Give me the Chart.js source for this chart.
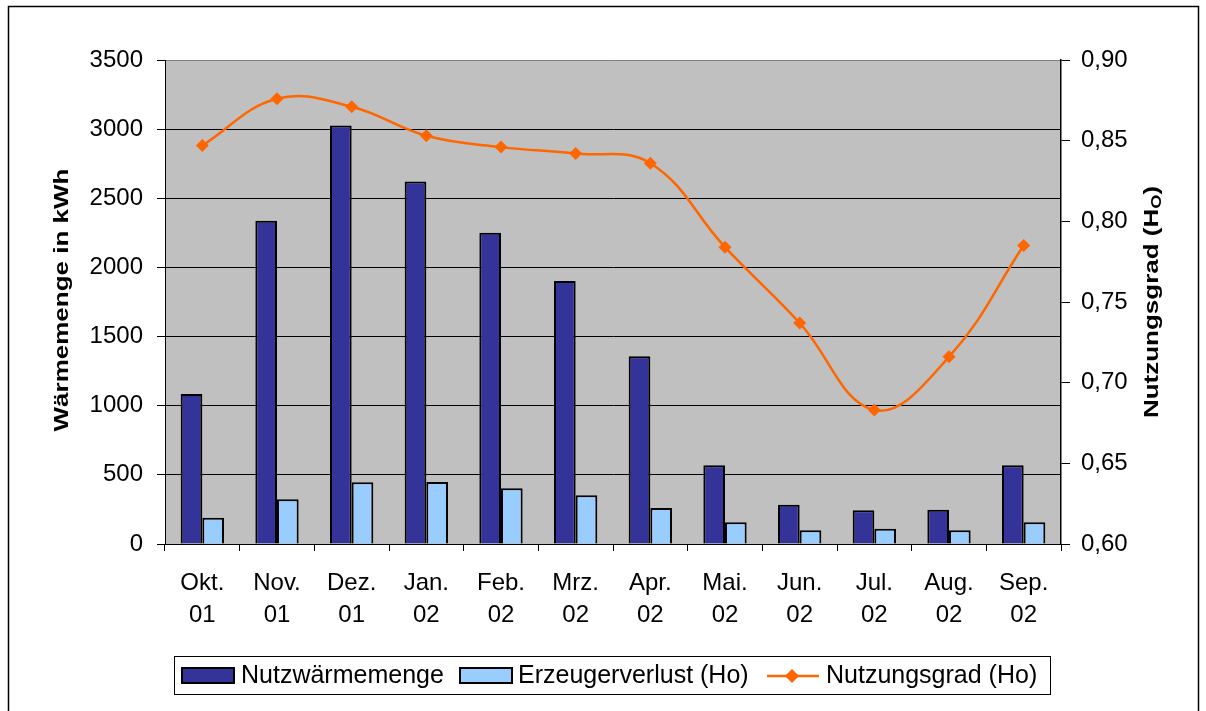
<!DOCTYPE html>
<html>
<head>
<meta charset="utf-8">
<script src="https://cdn.jsdelivr.net/npm/chart.js@4/dist/chart.umd.min.js"></script>
<style>
  html, body { margin: 0; padding: 0; background: #ffffff; }
  #wrap { position: relative; width: 1206px; height: 711px; }
</style>
</head>
<body>
<div id="wrap"><canvas id="c" width="1206" height="711"></canvas></div>
<script>
// ---- data ----
const months = [['Okt.','01'],['Nov.','01'],['Dez.','01'],['Jan.','02'],['Feb.','02'],['Mrz.','02'],
                ['Apr.','02'],['Mai.','02'],['Jun.','02'],['Jul.','02'],['Aug.','02'],['Sep.','02']];
const nutzwaermemenge = [1085, 2338, 3027, 2622, 2251, 1902, 1357, 569, 284, 244, 248, 569];
const erzeugerverlust = [190, 323, 446, 448, 403, 352, 260, 157, 99, 111, 99, 157];
const nutzungsgrad = [0.847, 0.876, 0.871, 0.853, 0.846, 0.842, 0.836, 0.784, 0.737, 0.683, 0.716, 0.785];
const leftTicks = [0, 500, 1000, 1500, 2000, 2500, 3000, 3500];
const rightTicks = [0.60, 0.65, 0.70, 0.75, 0.80, 0.85, 0.90];
const seriesNames = ['Nutzwärmemenge', 'Erzeugerverlust (Ho)', 'Nutzungsgrad (Ho)'];
const leftTitle = 'Wärmemenge in kWh';
const rightTitle = ['Nutzungsgrad (H', 'O', ')'];

const C_DARK = '#333399', C_LIGHT = '#99CCFF', C_ORANGE = '#FF6600', C_PLOT = '#C0C0C0';
const FONT = "'Liberation Sans', Arial, sans-serif";
const TITLE_STRETCH = 1.3;

const decorPlugin = {
  id: 'decor',
  beforeDraw(chart) {
    const {ctx, chartArea: a} = chart;
    ctx.save();
    ctx.fillStyle = '#fff';
    ctx.fillRect(0, 0, chart.width, chart.height);
    ctx.strokeStyle = '#000';
    ctx.lineWidth = 1.5;
    ctx.strokeRect(8.5, 6.5, 1190, 720);
    ctx.fillStyle = C_PLOT;
    ctx.fillRect(a.left, a.top, a.right - a.left, a.bottom - a.top);
    ctx.restore();
  },
  afterDraw(chart) {
    const {ctx, chartArea: a} = chart;
    const midY = (a.top + a.bottom) / 2;
    ctx.save();
    // axis titles
    ctx.fillStyle = '#000';
    ctx.font = 'bold 20px ' + FONT;
    ctx.textAlign = 'center';
    ctx.textBaseline = 'middle';
    ctx.save();
    ctx.translate(62, midY - 2);
    ctx.rotate(-Math.PI / 2);
    ctx.scale(TITLE_STRETCH, 1);
    ctx.fillText(leftTitle, 0, 0);
    ctx.restore();

    ctx.save();
    ctx.translate(1152.5, midY);
    ctx.rotate(-Math.PI / 2);
    ctx.scale(TITLE_STRETCH, 1);
    ctx.textAlign = 'left';
    ctx.textBaseline = 'middle';
    const fMain = 'bold 20px ' + FONT, fSub = 'bold 14px ' + FONT;
    ctx.font = fMain; const w1 = ctx.measureText(rightTitle[0]).width;
    ctx.font = fSub;  const w2 = ctx.measureText(rightTitle[1]).width;
    ctx.font = fMain; const w3 = ctx.measureText(rightTitle[2]).width;
    let x = -(w1 + w2 + w3) / 2;
    ctx.font = fMain; ctx.fillText(rightTitle[0], x, 0); x += w1;
    ctx.font = fSub;  ctx.fillText(rightTitle[1], x, 5); x += w2;
    ctx.font = fMain; ctx.fillText(rightTitle[2], x, 0);
    ctx.restore();

    // legend
    ctx.strokeStyle = '#000';
    ctx.lineWidth = 1;
    ctx.strokeRect(174.5, 656.5, 876, 38);
    const ly = 676;
    ctx.font = '25px ' + FONT;
    ctx.textAlign = 'left';
    ctx.textBaseline = 'middle';
    ctx.lineWidth = 2;
    ctx.fillStyle = C_DARK; ctx.fillRect(182, 668, 52, 15); ctx.strokeRect(182, 668, 52, 15);
    ctx.fillStyle = '#000'; ctx.fillText(seriesNames[0], 241, ly);
    ctx.fillStyle = C_LIGHT; ctx.fillRect(460, 668, 52, 15); ctx.strokeRect(460, 668, 52, 15);
    ctx.fillStyle = '#000'; ctx.fillText(seriesNames[1], 518, ly);
    ctx.strokeStyle = C_ORANGE; ctx.lineWidth = 2.5;
    ctx.beginPath(); ctx.moveTo(767, 676); ctx.lineTo(819, 676); ctx.stroke();
    ctx.fillStyle = C_ORANGE;
    ctx.beginPath(); ctx.moveTo(792, 669); ctx.lineTo(799, 676); ctx.lineTo(792, 683); ctx.lineTo(785, 676); ctx.closePath(); ctx.fill();
    ctx.fillStyle = '#000'; ctx.fillText(seriesNames[2], 826, ly);
    ctx.restore();
  }
};

new Chart(document.getElementById('c'), {
  type: 'bar',
  data: {
    labels: months,
    datasets: [
      {
        type: 'line', label: seriesNames[2], data: nutzungsgrad, yAxisID: 'y2', order: 0,
        borderColor: C_ORANGE, backgroundColor: C_ORANGE, borderWidth: 2.5, tension: 0.4,
        pointStyle: 'rectRot', pointRadius: 6.5, pointBackgroundColor: C_ORANGE,
        pointBorderColor: C_ORANGE, pointBorderWidth: 0, fill: false, clip: false
      },
      {
        label: seriesNames[0], data: nutzwaermemenge, yAxisID: 'y', order: 1,
        backgroundColor: C_DARK, borderColor: '#000', borderWidth: 2,
        categoryPercentage: 0.58, barPercentage: 1.0
      },
      {
        label: seriesNames[1], data: erzeugerverlust, yAxisID: 'y', order: 2,
        backgroundColor: C_LIGHT, borderColor: '#000', borderWidth: 2,
        categoryPercentage: 0.58, barPercentage: 1.0
      }
    ]
  },
  options: {
    responsive: false,
    animation: false,
    devicePixelRatio: 1,
    layout: { padding: { top: 60, left: 0, right: 0, bottom: 0 } },
    plugins: { legend: { display: false }, tooltip: { enabled: false } },
    scales: {
      x: {
        type: 'category',
        offset: true,
        grid: { offset: true, drawOnChartArea: false, drawTicks: true, tickLength: 7, color: '#000', lineWidth: 1 },
        border: { display: true, color: '#000', width: 1 },
        ticks: { color: '#000', padding: 16, maxRotation: 0, autoSkip: false,
                 font: { family: FONT, size: 24, lineHeight: 1.33 } },
        afterFit(s) { s.height = 167; }
      },
      y: {
        position: 'left', min: 0, max: 3500,
        afterBuildTicks(s) { s.ticks = leftTicks.map(v => ({ value: v })); },
        grid: { color: (c) => (c.tick && c.tick.value === 3500 ? '#808080' : '#000'),
                tickColor: '#000', tickLength: 8, lineWidth: 1 },
        border: { display: true, color: '#000', width: 1 },
        ticks: { color: '#000', padding: 14, font: { family: FONT, size: 24 },
                 callback: (v) => String(v) },
        afterFit(s) { s.width = 165; }
      },
      y2: {
        position: 'right', min: 0.6, max: 0.9,
        afterBuildTicks(s) { s.ticks = rightTicks.map(v => ({ value: v })); },
        grid: { drawOnChartArea: false, color: '#000', tickLength: 9, lineWidth: 1 },
        border: { display: true, color: '#000', width: 1.5 },
        ticks: { color: '#000', padding: 11, font: { family: FONT, size: 24 },
                 callback: (v) => Number(v).toFixed(2).replace('.', ',') },
        afterFit(s) { s.width = 145; }
      }
    }
  },
  plugins: [decorPlugin]
});
</script>
</body>
</html>
